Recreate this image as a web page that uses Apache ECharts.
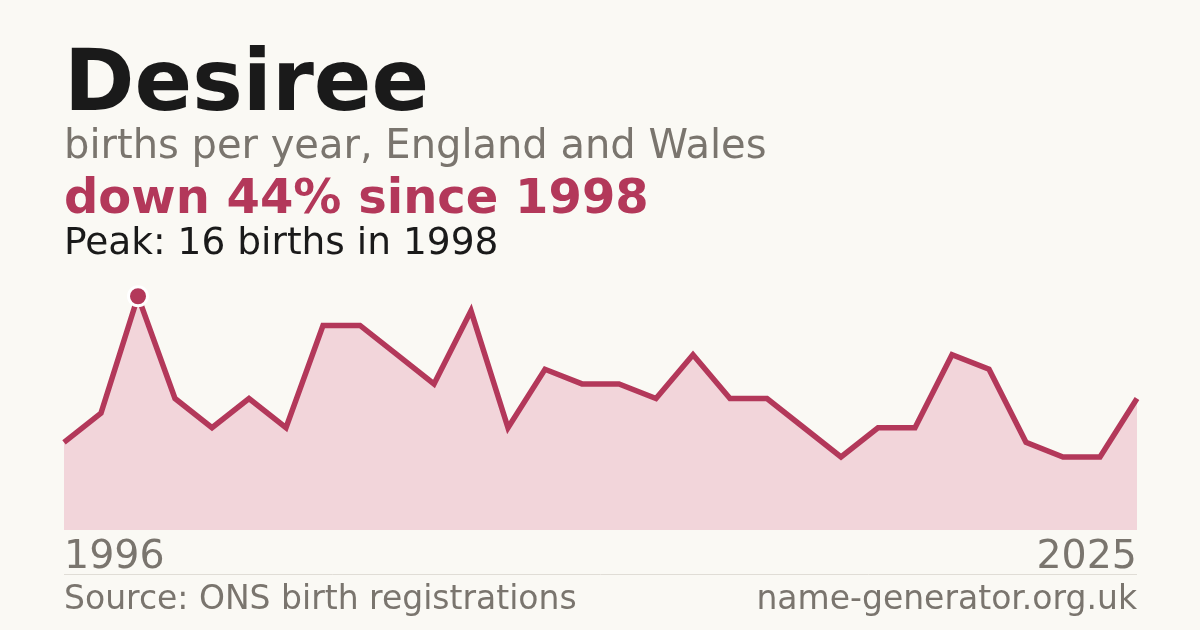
<!DOCTYPE html>
<html>
<head>
<meta charset="utf-8">
<script src="https://cdn.jsdelivr.net/npm/echarts@6/dist/echarts.min.js"></script>
<style>
  html, body { margin: 0; padding: 0; background: #faf9f4; }
  #chart { width: 1200px; height: 630px; }
</style>
</head>
<body>
<div id="chart"></div>
<script>
var years = ['1996', '1997', '1998', '1999', '2000', '2001', '2002', '2003', '2004', '2005',
  '2006', '2007', '2008', '2009', '2010', '2011', '2012', '2013', '2014', '2015',
  '2016', '2017', '2018', '2019', '2020', '2021', '2022', '2023', '2024', '2025'];
var births = [6, 8, 16, 9, 7, 9, 7, 14, 14, 12,
  10, 15, 7, 11, 10, 10, 9, 12, 9, 9,
  7, 5, 7, 7, 12, 11, 6, 5, 5, 9];

var RED = '#b3385a';
var GREY = '#7a756e';
var FONT = '"DejaVu Sans", sans-serif';

var chart = echarts.init(document.getElementById('chart'), null, { renderer: 'canvas' });

var option = {
  backgroundColor: '#faf9f4',
  animation: false,
  grid: { left: 64, right: 63, top: 267, bottom: 100 },
  xAxis: {
    type: 'category',
    data: years,
    boundaryGap: false,
    axisLine: { show: false },
    axisTick: { show: false },
    splitLine: { show: false },
    axisLabel: {
      interval: 28,
      margin: 8,
      color: GREY,
      fontFamily: FONT,
      fontSize: 39.5,
      alignMinLabel: 'left',
      alignMaxLabel: 'right'
    }
  },
  yAxis: {
    type: 'value',
    min: 0,
    max: 18,
    show: false,
    splitLine: { show: false }
  },
  series: [{
    type: 'line',
    data: births,
    showSymbol: false,
    lineStyle: { color: RED, width: 5.5, join: 'miter' },
    areaStyle: { color: '#f2d5da', opacity: 1 },
    markPoint: {
      symbol: 'circle',
      symbolSize: 19,
      label: { show: false },
      itemStyle: { color: RED, borderColor: '#ffffff', borderWidth: 3 },
      data: [{ type: 'max' }]
    }
  }],
  graphic: [
    { type: 'text', left: 64, top: 45, style: { text: 'Desiree', font: 'bold 85px ' + FONT, fill: '#1a1a1a' } },
    { type: 'text', left: 64, top: 128, style: { text: 'births per year, England and Wales', font: '40px ' + FONT, fill: GREY } },
    { type: 'text', left: 64, top: 177, style: { text: 'down 44% since 1998', font: 'bold 48px ' + FONT, fill: RED } },
    { type: 'text', left: 64, top: 225, style: { text: 'Peak: 16 births in 1998', font: '37.5px ' + FONT, fill: '#1a1a1a' } },
    { type: 'line', shape: { x1: 64, y1: 574.5, x2: 1137, y2: 574.5 }, style: { stroke: '#e0ddd6', lineWidth: 1 } },
    { type: 'text', left: 64, top: 584, style: { text: 'Source: ONS birth registrations', font: '33px ' + FONT, fill: GREY } },
    { type: 'text', right: 63, top: 584, style: { text: 'name-generator.org.uk', font: '33px ' + FONT, fill: GREY } }
  ]
};

chart.setOption(option);
</script>
</body>
</html>
